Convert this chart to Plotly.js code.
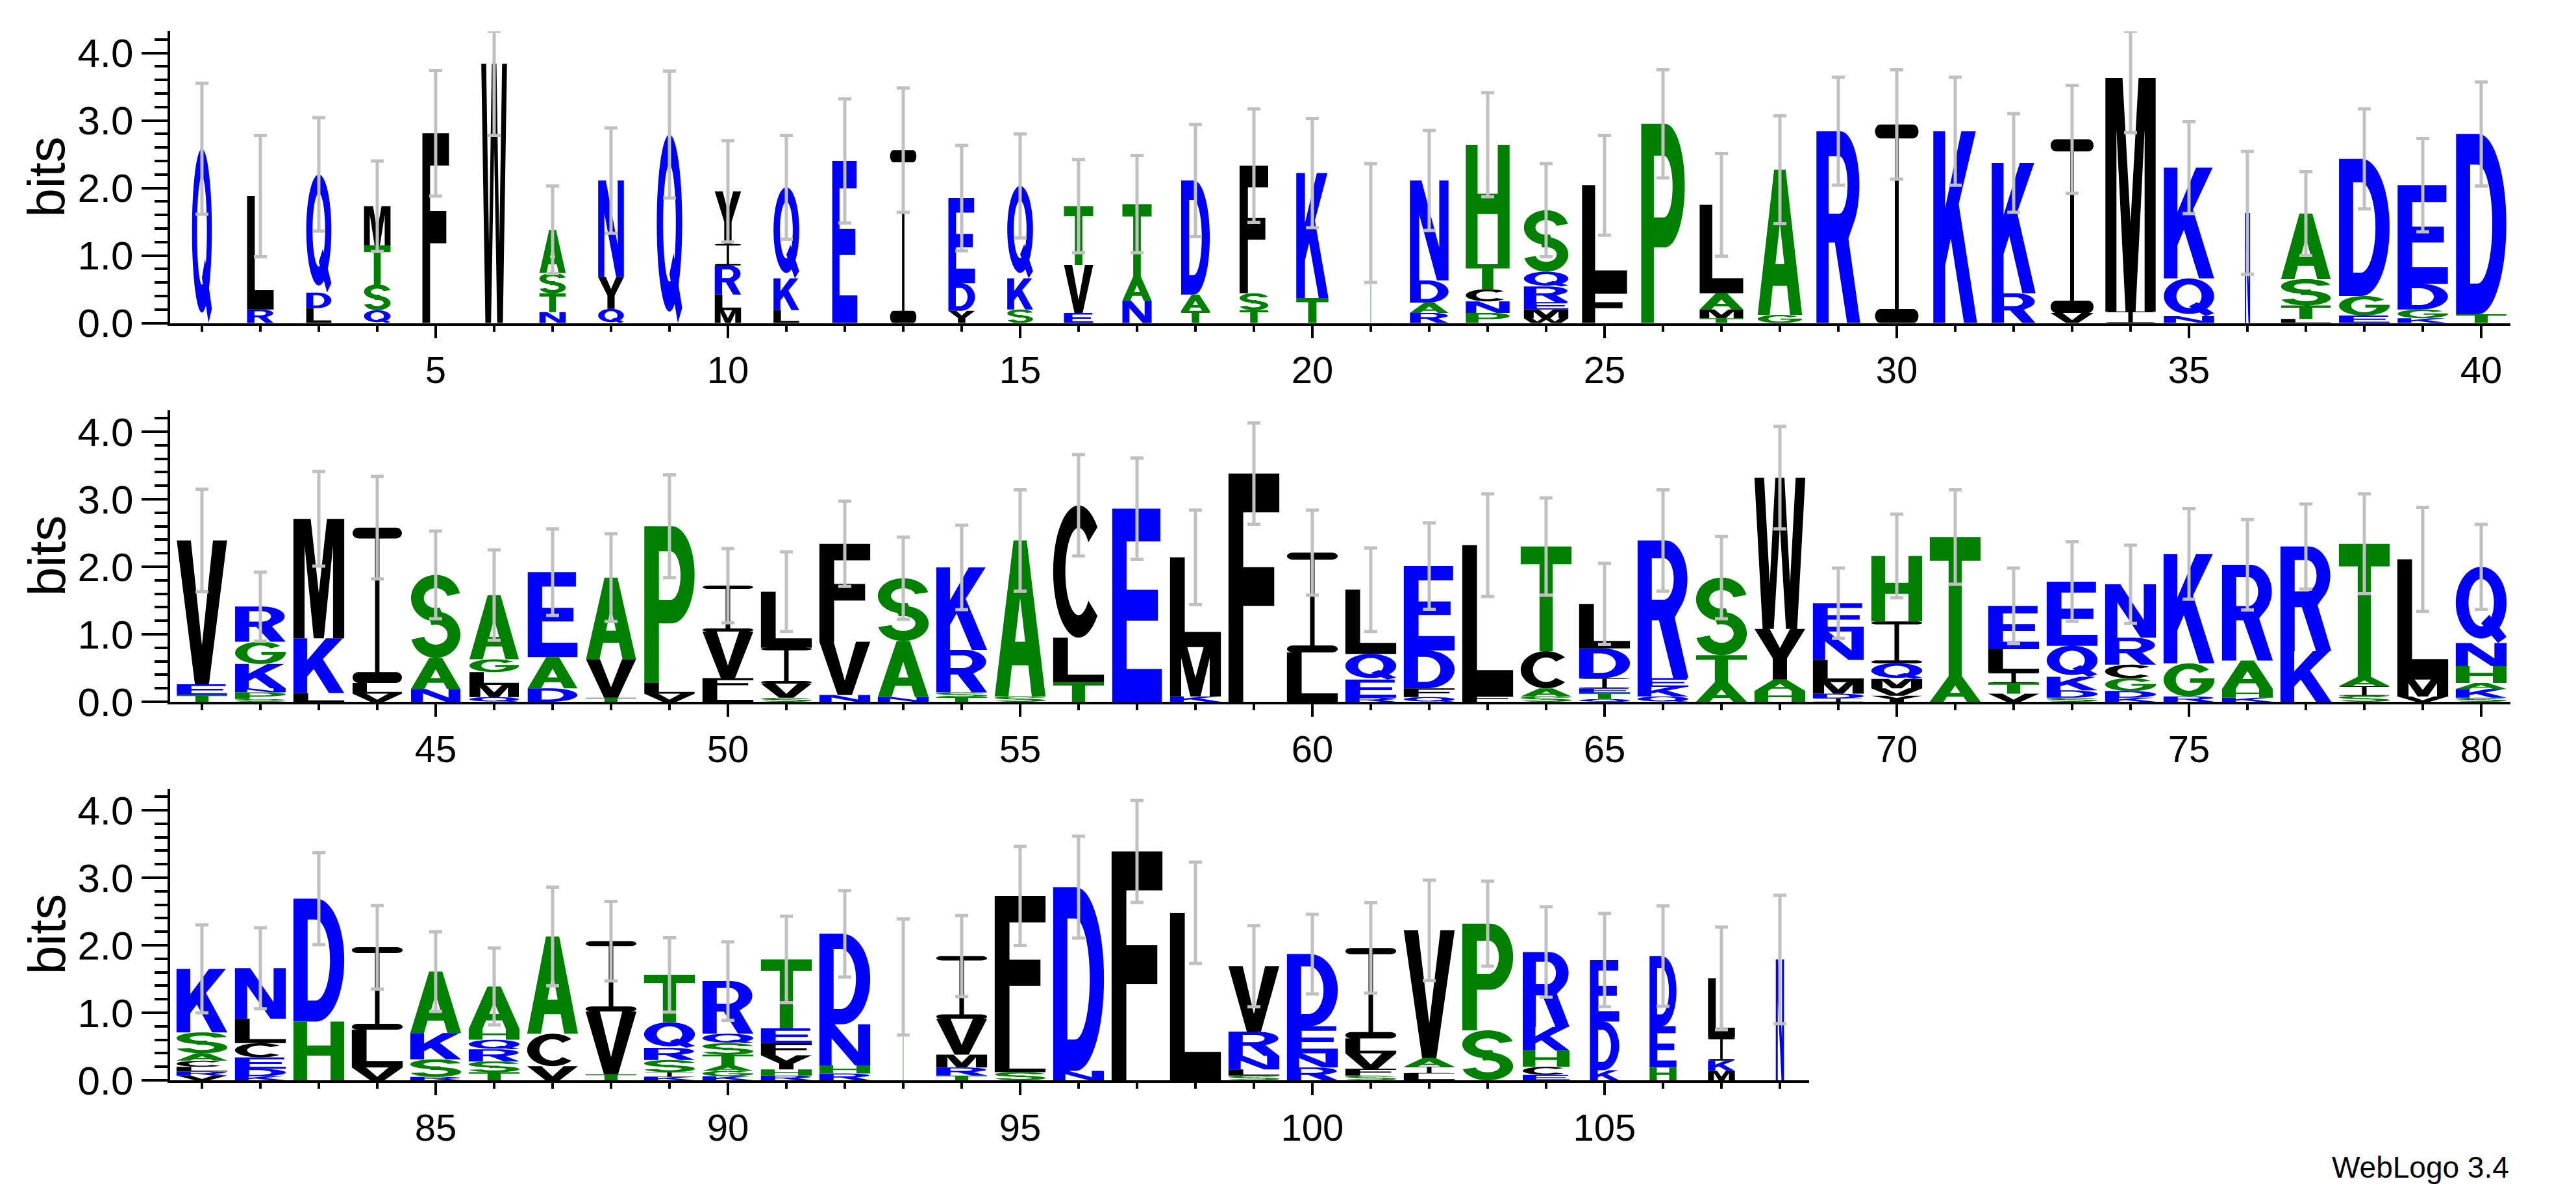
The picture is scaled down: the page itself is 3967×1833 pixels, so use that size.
<!DOCTYPE html>
<html>
<head>
<meta charset="utf-8">
<script src="https://cdn.plot.ly/plotly-3.0.1.min.js"></script>
<style>html,body{margin:0;padding:0;background:#fff;}#chart{width:3967px;height:1833px;}</style>
</head>
<body>
<div id="chart"></div>
<script>
// ---------------- DATA (read from the reference logo) ----------------
// letters of each stack, bottom -> top (position = index + 1)
const stackLetters = [
  "Q","RL","LDQ","QSTM","F","W","NTSA","QYN","Q","MLRIY",
  "LKQ","E","I","YDE","SKQ","EVT","NAT","TAD","TSF","TK",
  "T","RADN","PNCTH","WMERQS","FL","P","TMAL","GA","R","I",
  "K","RK","VI","IM","NQK","N","LTSA","EGD","KGDE","TD",
  "TEV","SPNKGR","LKM","VLI","NAS","QMLGA","DAE","TVA","VLP","LFVI",
  "SVIL","NVF","NAS","TSRK","SA","TLC","E","KML","F","LI",
  "REQL","QFDE","FL","SACT","QTEIDL","QKER","ATS","HAYW","IDMLNE","YVMQIH",
  "AT","VTILE","SDKQE","KDGCRN","RGK","KHAR","KR","SIAT","VML","SKAHNQ",
  "VRLCASK","KDECLN","HD","VLI","RSKA","TSRQHA","VCA","TVI","KISRQT","KGATSQR",
  "RHYFET","RHND","T","TRMVI","SLF","ND","F","L","SLNRV","RNED",
  "SFVLI","LIAV","SP","ECHKR","KDE","HED","MKIL","N"
];
// letter heights in bits, same order
const stackHeights = [
  [2.58],[0.20,1.68],[0.22,0.23,1.75],[0.19,0.38,0.58,0.58],[2.81],[3.84],[0.16,0.28,0.30,0.64],[0.21,0.47,1.43],[2.79],[0.19,0.23,0.43,0.32,0.78],
  [0.19,0.47,1.35],[2.40],[2.56],[0.18,0.41,1.26],[0.20,0.46,1.37],[0.15,0.71,0.87],[0.33,0.36,1.07],[0.18,0.24,1.69],[0.19,0.25,1.89],[0.37,1.85],
  [1.48],[0.15,0.15,0.33,1.48],[0.15,0.17,0.18,0.37,1.77],[0.07,0.13,0.11,0.23,0.22,0.91],[0.52,1.52],[2.95],[0.07,0.13,0.24,1.31],[0.12,2.15],[2.84],[2.94],
  [2.84],[0.44,1.93],[0.15,2.57],[0.17,3.46],[0.10,0.56,1.64],[1.63],[0.06,0.20,0.39,0.97],[0.11,0.29,2.03],[0.07,0.13,0.38,1.46],[0.13,2.67],
  [0.10,0.16,2.13],[0.04,0.10,0.06,0.36,0.33,0.52],[0.13,0.81,1.77],[0.12,0.16,2.30],[0.19,0.46,1.23],[0.07,0.18,0.19,0.19,0.95],[0.20,0.46,1.26],[0.06,0.57,1.21],[0.12,0.16,2.32],[0.17,0.18,0.69,0.68],
  [0.06,0.21,0.53,0.83],[0.10,0.79,1.45],[0.07,0.83,0.93],[0.07,0.07,0.63,1.22],[0.08,2.31],[0.29,0.66,1.96],[2.86],[0.08,0.73,1.33],[3.38],[0.73,1.48],
  [0.06,0.27,0.38,0.95],[0.07,0.13,0.56,1.25],[0.09,2.23],[0.08,0.12,0.55,1.55],[0.04,0.09,0.07,0.15,0.44,0.66],[0.08,0.14,0.13,2.04],[0.29,0.40,1.15],[0.16,0.17,0.75,2.24],[0.05,0.07,0.17,0.33,0.42,0.42],[0.09,0.11,0.14,0.23,0.62,0.97],
  [0.38,2.06],[0.12,0.16,0.15,0.35,0.64],[0.06,0.11,0.20,0.46,0.95],[0.06,0.10,0.19,0.20,0.40,0.79],[0.08,0.49,1.62],[0.06,0.13,0.42,1.42],[0.75,1.55],[0.09,0.14,0.14,1.97],[0.08,0.25,1.78],[0.06,0.13,0.09,0.25,0.34,1.13],
  [0.07,0.06,0.07,0.09,0.11,0.31,0.94],[0.06,0.11,0.17,0.21,0.36,0.75],[0.87,1.82],[0.19,0.56,1.22],[0.05,0.26,0.39,0.91],[0.12,0.16,0.18,0.14,0.16,0.63],[0.21,0.48,1.44],[0.09,0.93,1.04],[0.05,0.07,0.18,0.18,0.38,0.70],[0.06,0.08,0.08,0.16,0.17,0.14,0.78],
  [0.07,0.09,0.21,0.18,0.22,1.02],[0.10,0.12,0.61,1.34],[1.53],[0.07,0.12,0.19,0.53,0.93],[0.12,0.31,2.30],[0.14,2.72],[3.39],[2.48],[0.07,0.09,0.20,0.36,0.97],[0.19,0.21,0.40,1.07],
  [0.07,0.10,0.23,0.22,1.34],[0.10,0.10,0.13,1.89],[0.74,1.58],[0.08,0.12,0.24,0.35,1.11],[0.15,0.72,0.91],[0.19,0.61,1.04],[0.14,0.15,0.34,0.88],[1.79]
];
// stack widths (fraction of one position, scaled by occupancy)
const stackWidths = [
  0.34,0.455,0.43,0.455,0.455,0.44,0.45,0.44,0.435,0.45,
  0.44,0.43,0.45,0.455,0.44,0.50,0.50,0.49,0.49,0.55,
  0.03,0.66,0.75,0.76,0.77,0.745,0.745,0.76,0.75,0.745,
  0.75,0.75,0.735,0.86,0.86,0.09,0.85,0.865,0.86,0.86,
  0.86,0.865,0.87,0.845,0.845,0.845,0.85,0.855,0.86,0.87,
  0.87,0.87,0.87,0.87,0.87,0.87,0.85,0.87,0.87,0.87,
  0.87,0.87,0.87,0.87,0.87,0.87,0.87,0.87,0.87,0.87,
  0.87,0.87,0.87,0.87,0.87,0.87,0.87,0.87,0.87,0.87,
  0.87,0.87,0.87,0.87,0.87,0.87,0.87,0.87,0.87,0.87,
  0.87,0.87,0.03,0.87,0.87,0.87,0.87,0.87,0.87,0.87,
  0.87,0.87,0.87,0.80,0.50,0.46,0.46,0.14
];
// error bar half-lengths (bits)
const errorBars = [
  0.97,0.90,0.84,0.67,0.93,1.06,0.65,0.78,0.94,0.75,
  0.77,0.92,0.92,0.78,0.77,0.69,0.72,0.83,0.84,0.81,
  0.88,0.74,0.77,0.69,0.74,0.80,0.76,0.80,0.80,0.81,
  0.80,0.73,0.80,0.81,0.68,0.91,0.62,0.74,0.69,0.77,
  0.76,0.51,0.70,0.76,0.65,0.67,0.64,0.65,0.76,0.55,
  0.59,0.63,0.61,0.625,0.75,0.75,0.75,0.70,0.75,0.63,
  0.62,0.64,0.76,0.72,0.60,0.75,0.61,0.76,0.52,0.62,
  0.70,0.56,0.59,0.58,0.67,0.67,0.63,0.74,0.77,0.63,
  0.65,0.60,0.68,0.62,0.59,0.57,0.73,0.59,0.55,0.58,
  0.64,0.64,0.86,0.60,0.735,0.755,0.755,0.75,0.60,0.59,
  0.67,0.745,0.63,0.67,0.69,0.745,0.76,0.95
];
const rowFirst = [1, 41, 81];
const rowLast = [40, 80, 108];
const yMax = 4.32;            // log2(20)
const hydrophilic = "RKDENQ";  // blue
const neutral = "SGHTAP";      // green
const hydrophobic = "YVMCLFIW"; // black

// ---------------- glyph outlines (unit box, y up) ----------------
function arcPts(cx, cy, rx, ry, a0, a1, n) {
  const out = [];
  for (let i = 0; i <= n; i++) {
    const a = (a0 + (a1 - a0) * i / n) * Math.PI / 180;
    out.push([cx + rx * Math.cos(a), cy + ry * Math.sin(a)]);
  }
  return out;
}
function ringSeg(cx, cy, rxo, ryo, rxi, ryi, a0, a1, n) {
  return arcPts(cx, cy, rxo, ryo, a0, a1, n).concat(arcPts(cx, cy, rxi, ryi, a1, a0, n));
}
function pill(x0, x1, y0, y1) {
  const ry = (y1 - y0) / 2, rx = Math.min(0.12, (x1 - x0) / 2), yc = (y0 + y1) / 2;
  return arcPts(x1 - rx, yc, rx, ry, -90, 90, 10).concat(arcPts(x0 + rx, yc, rx, ry, 90, 270, 10));
}
const GLYPH_SRC = {
  A: {o: [[[0,0],[0.27,0],[0.34,0.2],[0.66,0.2],[0.73,0],[1,0],[0.63,1],[0.37,1]]], h: [[[0.4,0.35],[0.6,0.35],[0.5,0.63]]]},
  C: {o: [ringSeg(0.5,0.5,0.5,0.5,0.26,0.33,42,318,40)], h: []},
  D: {o: [[[0,0],[0.45,0]].concat(arcPts(0.45,0.5,0.55,0.5,-90,90,30),[[0,1]])],
      h: [[[0.28,0.17],[0.43,0.17]].concat(arcPts(0.43,0.5,0.29,0.33,-90,90,30),[[0.28,0.83]])]},
  E: {o: [[[0,0],[1,0],[1,0.17],[0.29,0.17],[0.29,0.42],[0.92,0.42],[0.92,0.58],[0.29,0.58],[0.29,0.83],[0.97,0.83],[0.97,1],[0,1]]], h: []},
  F: {o: [[[0,0],[0.29,0],[0.29,0.42],[0.9,0.42],[0.9,0.59],[0.29,0.59],[0.29,0.83],[1,0.83],[1,1],[0,1]]], h: []},
  G: {o: [arcPts(0.5,0.5,0.5,0.5,38,350,40).concat([[1,0.41],[1,0.55],[0.52,0.55],[0.52,0.41],[0.75,0.41]], arcPts(0.5,0.5,0.26,0.33,342,38,36))], h: []},
  H: {o: [[[0,0],[0.27,0],[0.27,0.42],[0.73,0.42],[0.73,0],[1,0],[1,1],[0.73,1],[0.73,0.59],[0.27,0.59],[0.27,1],[0,1]]], h: []},
  I: {o: [pill(0,1,0,0.07), pill(0,1,0.93,1), [[0.455,0.035],[0.545,0.035],[0.545,0.965],[0.455,0.965]]], h: []},
  K: {o: [[[0,0],[0.27,0],[0.27,0.3],[0.4,0.44],[0.7,0],[1,0],[0.58,0.62],[0.97,1],[0.64,1],[0.27,0.6],[0.27,1],[0,1]]], h: []},
  L: {o: [[[0,0],[1,0],[1,0.17],[0.29,0.17],[0.29,1],[0,1]]], h: []},
  M: {o: [[[0,0],[0.22,0],[0.22,0.78],[0.4,0],[0.6,0],[0.78,0.78],[0.78,0],[1,0],[1,1],[0.66,1],[0.5,0.38],[0.34,1],[0,1]]], h: []},
  N: {o: [[[0,0],[0.24,0],[0.24,0.66],[0.7,0],[1,0],[1,1],[0.76,1],[0.76,0.33],[0.3,1],[0,1]]], h: []},
  P: {o: [[[0,0],[0.29,0],[0.29,0.38],[0.55,0.38]].concat(arcPts(0.55,0.69,0.45,0.31,-90,90,30),[[0,1]])],
      h: [[[0.29,0.53],[0.52,0.53]].concat(arcPts(0.52,0.685,0.2,0.155,-90,90,24),[[0.29,0.84]])]},
  Q: {o: [arcPts(0.5,0.53,0.5,0.47,0,360,60), [[0.5,0.26],[0.66,0.37],[1,0.08],[0.83,0]]],
      h: [arcPts(0.5,0.53,0.25,0.31,0,360,60)]},
  R: {o: [[[0,0],[0.28,0],[0.28,0.42],[0.42,0.42],[0.7,0],[1,0],[0.73,0.44]].concat(arcPts(0.55,0.72,0.43,0.28,-50,90,28),[[0,1]])],
      h: [[[0.28,0.57],[0.52,0.57]].concat(arcPts(0.52,0.72,0.19,0.15,-90,90,24),[[0.28,0.87]])]},
  S: {o: [ringSeg(0.5,0.72,0.5,0.28,0.24,0.12,12,290,36), ringSeg(0.5,0.28,0.5,0.28,0.24,0.12,110,-168,36)], h: []},
  T: {o: [[[0.37,0],[0.63,0],[0.63,0.83],[1,0.83],[1,1],[0,1],[0,0.83],[0.37,0.83]]], h: []},
  V: {o: [[[0,1],[0.28,1],[0.5,0.27],[0.72,1],[1,1],[0.64,0],[0.36,0]]], h: []},
  W: {o: [[[0,1],[0.19,1],[0.3,0.3],[0.41,1],[0.59,1],[0.7,0.3],[0.81,1],[1,1],[0.84,0],[0.62,0],[0.5,0.68],[0.38,0],[0.16,0]]], h: []},
  Y: {o: [[[0,1],[0.3,1],[0.5,0.62],[0.7,1],[1,1],[0.64,0.42],[0.64,0],[0.36,0],[0.36,0.42]]], h: []}
};
function signedArea(p) {
  let a = 0;
  for (let i = 0; i < p.length; i++) { const q = p[(i + 1) % p.length]; a += p[i][0] * q[1] - q[0] * p[i][1]; }
  return a / 2;
}
function orient(p, positive) { return (signedArea(p) > 0) === positive ? p : p.slice().reverse(); }
const GLYPHS = {};
Object.keys(GLYPH_SRC).forEach(k => {
  GLYPHS[k] = GLYPH_SRC[k].o.map(c => orient(c, true)).concat(GLYPH_SRC[k].h.map(c => orient(c, false)));
});

const COLORS = {blue: '#0000ff', green: '#008000', black: '#000000'};
function colorOf(L) {
  if (hydrophilic.includes(L)) return 'blue';
  if (neutral.includes(L)) return 'green';
  return 'black';
}

// ---------------- traces ----------------
const traces = [];
for (let r = 0; r < 3; r++) {
  const xa = r === 0 ? 'x' : 'x' + (r + 1);
  const ya = r === 0 ? 'y' : 'y' + (r + 1);
  const groups = {blue: {x: [], y: []}, green: {x: [], y: []}, black: {x: [], y: []}};
  const ex = [], ey = [], ep = [], em = [];
  for (let pos = rowFirst[r]; pos <= rowLast[r]; pos++) {
    const i = pos - 1, w = stackWidths[i];
    let base = 0;
    for (let k = 0; k < stackLetters[i].length; k++) {
      const L = stackLetters[i][k], h = stackHeights[i][k];
      const g = groups[colorOf(L)];
      for (const c of GLYPHS[L]) {
        for (const pt of c) { g.x.push(pos - w / 2 + pt[0] * w); g.y.push(base + pt[1] * h); }
        g.x.push(null); g.y.push(null);
      }
      base += h;
    }
    ex.push(pos); ey.push(base);
    em.push(errorBars[i]);
    ep.push(Math.min(errorBars[i], yMax - base));
  }
  for (const key of ['blue', 'green', 'black']) {
    traces.push({
      type: 'scatter', mode: 'lines', x: groups[key].x, y: groups[key].y,
      xaxis: xa, yaxis: ya, fill: 'toself', fillcolor: COLORS[key],
      line: {width: 0, color: COLORS[key], simplify: false},
      connectgaps: false, hoverinfo: 'skip', showlegend: false
    });
  }
  traces.push({
    type: 'scatter', mode: 'markers', x: ex, y: ey, xaxis: xa, yaxis: ya,
    marker: {size: 2, color: 'rgba(0,0,0,0)'},
    error_y: {type: 'data', symmetric: false, array: ep, arrayminus: em, visible: true,
              color: '#c0c0c0', thickness: 5, width: 10},
    hoverinfo: 'skip', showlegend: false
  });
}

// ---------------- layout ----------------
const FONT = 'Liberation Sans, Arial, Helvetica, sans-serif';
const W = 3967, H = 1833;
const plotLeft = 262;
const rowRight = [3866, 3866, 2786];
const rowBase = [497.5, 1081, 1664];
const rowHeightPx = yMax * 104;

const layout = {
  width: W, height: H,
  margin: {l: 0, r: 0, t: 0, b: 0, pad: 0},
  paper_bgcolor: '#ffffff', plot_bgcolor: '#ffffff',
  font: {family: FONT, color: '#000'},
  showlegend: false,
  annotations: [{
    text: 'WebLogo 3.4', xref: 'paper', yref: 'paper',
    x: 3866 / W, y: (H - 1826) / H, xanchor: 'right', yanchor: 'bottom',
    showarrow: false, font: {family: FONT, size: 46, color: '#000'}
  }]
};
for (let r = 0; r < 3; r++) {
  const sx = r === 0 ? '' : String(r + 1);
  const yb = (H - rowBase[r]) / H, yt = (H - rowBase[r] + rowHeightPx) / H;
  layout['xaxis' + sx] = {
    domain: [plotLeft / W, rowRight[r] / W],
    range: [rowFirst[r] - 0.544, rowLast[r] + 0.5],
    anchor: 'y' + sx,
    tickmode: 'linear', tick0: 0, dtick: 5,
    ticks: 'outside', ticklen: 19, tickwidth: 4, tickcolor: '#000',
    minor: {tickmode: 'linear', tick0: 0, dtick: 1, ticks: 'outside', ticklen: 9, tickwidth: 4, tickcolor: '#000', showgrid: false},
    showline: true, linewidth: 4, linecolor: '#000',
    showgrid: false, zeroline: false, fixedrange: true,
    tickfont: {family: FONT, size: 58, color: '#000'}
  };
  layout['yaxis' + sx] = {
    domain: [yb, yt],
    range: [0, yMax],
    anchor: 'x' + sx,
    tickmode: 'linear', tick0: 0, dtick: 1, tickformat: '.1f',
    ticks: 'outside', ticklen: 40, tickwidth: 4, tickcolor: '#000',
    minor: {tickmode: 'linear', tick0: 0, dtick: 0.2, ticks: 'outside', ticklen: 20, tickwidth: 4, tickcolor: '#000', showgrid: false},
    showline: true, linewidth: 4, linecolor: '#000',
    showgrid: false, zeroline: false, fixedrange: true,
    tickfont: {family: FONT, size: 62, color: '#000'}
  };
  // "bits" axis label, centred on each row's y domain
  layout.annotations.push({
    text: 'bits', xref: 'paper', yref: 'paper',
    x: 72 / W, y: (yb + yt) / 2, xanchor: 'center', yanchor: 'middle',
    textangle: -90, showarrow: false,
    font: {family: FONT, size: 80, color: '#000'}
  });
}

Plotly.newPlot('chart', traces, layout, {displayModeBar: false, staticPlot: true});
</script>
</body>
</html>
